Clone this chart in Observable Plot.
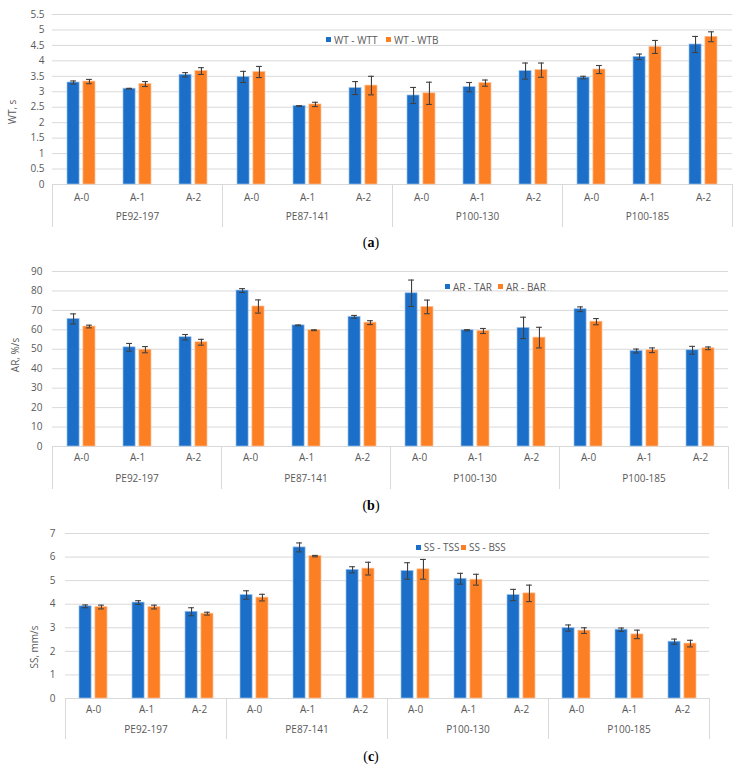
<!DOCTYPE html>
<html>
<head>
<meta charset="utf-8">
<script src="https://cdn.jsdelivr.net/npm/d3@7"></script>
<script src="https://cdn.jsdelivr.net/npm/@observablehq/plot@0.6"></script>
<style>
  body { margin: 0; background: #fff; }
  #fig { position: relative; width: 742px; height: 769px; font-family: "Open Sans", sans-serif; overflow: hidden; }
  .panel { position: absolute; left: 0; }
  .ylab { position: absolute; transform: translate(-50%, -50%) rotate(-90deg); font-size: 10px; color: #595959; white-space: nowrap; }
  .leg { position: absolute; display: flex; align-items: center; font-size: 10px; color: #595959; white-space: nowrap; transform: translateY(-50%); }
  .sw { display: inline-block; width: 5px; height: 5px; margin-right: 3px; }
  .cap { position: absolute; transform: translate(-50%, -50%); font-family: "Liberation Serif", serif; font-size: 14px; color: #000; }
</style>
</head>
<body>
<div id="fig"></div>
<script>
// ---------- data ----------
const groups = ["PE92-197", "PE87-141", "P100-130", "P100-185"];
const levels = ["A-0", "A-1", "A-2"];

// (a) WT, s
const wtNames = ["WT - WTT", "WT - WTB"];
const wtTT    = [3.30, 3.10, 3.55, 3.48, 2.54, 3.12, 2.88, 3.15, 3.67, 3.46, 4.13, 4.53];
const wtTTerr = [0.05, 0.01, 0.07, 0.18, 0.01, 0.21, 0.26, 0.15, 0.26, 0.04, 0.09, 0.26];
const wtTB    = [3.33, 3.25, 3.67, 3.64, 2.59, 3.20, 2.95, 3.28, 3.70, 3.72, 4.45, 4.78];
const wtTBerr = [0.07, 0.08, 0.11, 0.18, 0.07, 0.30, 0.36, 0.10, 0.23, 0.13, 0.21, 0.16];
const wtTicks = [0, 0.5, 1, 1.5, 2, 2.5, 3, 3.5, 4, 4.5, 5, 5.5];

// (b) AR, %/s
const arNames  = ["AR - TAR", "AR - BAR"];
const arTAR    = [65.6, 51.0, 56.2, 80.2, 62.3, 66.7, 78.8, 59.8, 61.0, 70.6, 49.1, 49.5];
const arTARerr = [2.6, 2.0, 1.4, 1.0, 0.2, 0.7, 6.8, 0.3, 5.5, 1.2, 1.0, 2.0];
const arBAR    = [61.7, 49.8, 53.6, 72.0, 59.8, 63.7, 71.8, 59.4, 56.0, 64.2, 49.5, 50.5];
const arBARerr = [0.7, 1.6, 1.5, 3.4, 0.2, 1.0, 3.5, 1.3, 5.3, 1.6, 1.2, 0.7];
const arTicks  = [0, 10, 20, 30, 40, 50, 60, 70, 80, 90];

// (c) SS, mm/s
const ssNames  = ["SS - TSS", "SS - BSS"];
const ssTSS    = [3.91, 4.07, 3.68, 4.39, 6.41, 5.46, 5.41, 5.08, 4.39, 2.99, 2.92, 2.41];
const ssTSSerr = [0.06, 0.08, 0.17, 0.18, 0.19, 0.13, 0.35, 0.23, 0.24, 0.13, 0.07, 0.11];
const ssBSS    = [3.88, 3.88, 3.60, 4.28, 6.04, 5.51, 5.48, 5.04, 4.46, 2.88, 2.72, 2.33];
const ssBSSerr = [0.08, 0.08, 0.06, 0.14, 0.03, 0.27, 0.42, 0.23, 0.35, 0.12, 0.18, 0.14];
const ssTicks  = [0, 1, 2, 3, 4, 5, 6, 7];

// ---------- style ----------
const BLUE = "#1b6fc8", BLUE_EDGE = "#9fc4ec";
const ORANGE = "#fd7f23", ORANGE_EDGE = "#fdc49a";
const GRID = "#d9d9d9", TEXT = "#595959", ERR = "#404040";
const BAR_W = 12.3, GAP = 3.6, CAP = 3;

const fig = document.getElementById("fig");

function rowsFor(vals, errs) {
  const out = [];
  groups.forEach((g, gi) => levels.forEach((l, li) => {
    const i = gi * 3 + li;
    out.push({group: g, level: l, v: vals[i], e: errs[i]});
  }));
  return out;
}

function panel(cfg) {
  const W = 742;
  const blue = rowsFor(cfg.a, cfg.ae);
  const orange = rowsFor(cfg.b, cfg.be);
  const facetW = (W - cfg.ml - cfg.mr) / groups.length;
  const step = facetW / levels.length;
  const bw = 2 * BAR_W + GAP;
  const p = 1 - bw / step;
  const frameH = cfg.height - cfg.mt - cfg.mb;
  const off = (BAR_W + GAP) / 2;
  const levelRows = [];
  groups.forEach(g => levels.forEach(l => levelRows.push({group: g, level: l})));

  const errMarks = (rows, sign) => {
    const c = sign < 0 ? BAR_W / 2 : bw - BAR_W / 2;
    return [
      Plot.ruleX(rows, {fx: "group", x: "level", y1: d => d.v - d.e, y2: d => d.v + d.e, dx: sign * off, stroke: ERR, strokeWidth: 1.1}),
      Plot.tickY(rows, {fx: "group", x: "level", y: d => d.v + d.e, insetLeft: c - CAP, insetRight: bw - c - CAP, stroke: ERR, strokeWidth: 1.1}),
      Plot.tickY(rows, {fx: "group", x: "level", y: d => d.v - d.e, insetLeft: c - CAP, insetRight: bw - c - CAP, stroke: ERR, strokeWidth: 1.1})
    ];
  };

  const chart = Plot.plot({
    width: W,
    height: cfg.height,
    marginTop: cfg.mt,
    marginBottom: cfg.mb,
    marginLeft: cfg.ml,
    marginRight: cfg.mr,
    style: {fontFamily: "'Open Sans', sans-serif", fontSize: "10px", color: TEXT, background: "transparent", overflow: "visible"},
    fx: {domain: groups, padding: 0, axis: null, label: null},
    x: {domain: levels, paddingInner: p, paddingOuter: p / 2, axis: null, label: null},
    y: {domain: [0, cfg.ymax], label: null},
    marks: [
      Plot.gridY(cfg.ticks, {stroke: GRID, strokeOpacity: 1, strokeWidth: 1}),
      Plot.axisY(cfg.ticks, {tickSize: 0, tickPadding: cfg.tp, tickFormat: d => String(d), label: null, fill: TEXT, fontSize: 10}),
      Plot.ruleY([0], {stroke: GRID, strokeWidth: 1}),
      Plot.frame({anchor: "left", stroke: GRID, strokeWidth: 1, insetTop: frameH, insetBottom: -cfg.sep}),
      Plot.frame({anchor: "right", facetAnchor: "right", stroke: GRID, strokeWidth: 1, insetTop: frameH, insetBottom: -cfg.sep}),
      Plot.barY(blue, {fx: "group", x: "level", y: "v", fill: BLUE, stroke: BLUE_EDGE, strokeWidth: 0.7, insetRight: BAR_W + GAP}),
      Plot.barY(orange, {fx: "group", x: "level", y: "v", fill: ORANGE, stroke: ORANGE_EDGE, strokeWidth: 0.7, insetLeft: BAR_W + GAP}),
      ...errMarks(blue, -1),
      ...errMarks(orange, 1),
      Plot.text(levelRows, {fx: "group", x: "level", text: "level", frameAnchor: "bottom", dy: cfg.ly, fill: TEXT, fontSize: 10}),
      Plot.text(groups, {fx: d => d, text: d => d, frameAnchor: "bottom", dy: cfg.gy, fill: TEXT, fontSize: 10})
    ]
  });
  const wrap = document.createElement("div");
  wrap.className = "panel";
  wrap.style.top = cfg.top + "px";
  wrap.appendChild(chart);
  fig.appendChild(wrap);

  // y-axis title
  const yl = document.createElement("div");
  yl.className = "ylab";
  yl.textContent = cfg.ylabel;
  yl.style.left = cfg.ylx + "px";
  yl.style.top = cfg.yly + "px";
  fig.appendChild(yl);

  // legend
  const names = cfg.names;
  [[BLUE, names[0], cfg.leg[0]], [ORANGE, names[1], cfg.leg[1]]].forEach(([col, name, lx]) => {
    const item = document.createElement("div");
    item.className = "leg";
    item.style.left = lx + "px";
    item.style.top = cfg.legY + "px";
    const sw = document.createElement("span");
    sw.className = "sw";
    sw.style.background = col;
    item.appendChild(sw);
    item.appendChild(document.createTextNode(name));
    fig.appendChild(item);
  });

  // caption
  const cap = document.createElement("div");
  cap.className = "cap";
  cap.innerHTML = "(<b>" + cfg.letter + "</b>)";
  cap.style.left = "371px";
  cap.style.top = cfg.capY + "px";
  fig.appendChild(cap);
}

panel({top: 0, height: 232, mt: 14, mb: 48, ml: 51, mr: 9, ymax: 5.5, ticks: wtTicks, tp: 8,
  a: wtTT, ae: wtTTerr, b: wtTB, be: wtTBerr, sep: 42, ly: 16, gy: 35,
  names: wtNames, ylabel: "WT, s", ylx: 12, yly: 112, leg: [326, 386], legY: 39.5, letter: "a", capY: 243});

panel({top: 255, height: 237, mt: 16, mb: 46, ml: 50, mr: 13, ymax: 90, ticks: arTicks, tp: 10,
  a: arTAR, ae: arTARerr, b: arBAR, be: arBARerr, sep: 42, ly: 14, gy: 35,
  names: arNames, ylabel: "AR, %/s", ylx: 15, yly: 355, leg: [445, 498], legY: 286.7, letter: "b", capY: 506});

panel({top: 515, height: 229, mt: 18, mb: 46, ml: 63, mr: 32, ymax: 7, ticks: ssTicks, tp: 10,
  a: ssTSS, ae: ssTSSerr, b: ssBSS, be: ssBSSerr, sep: 40, ly: 14, gy: 34,
  names: ssNames, ylabel: "SS, mm/s", ylx: 34, yly: 647, leg: [415.7, 461], legY: 547.3, letter: "c", capY: 757});
</script>
</body>
</html>
